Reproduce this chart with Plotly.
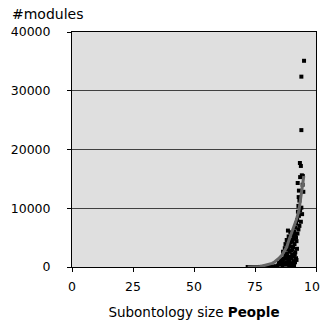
import plotly.graph_objects as go

# Scatter data: subontology size vs number of modules
sizes = [95.1, 94.0, 94.0, 93.4, 93.8,
         94.2, 94.6, 93.5, 92.5, 94.5, 93.0, 94.8, 92.9, 93.2, 92.8, 94.0, 93.5,
         92.6, 94.3, 93.0, 92.3, 93.8, 91.9, 93.2, 91.5, 92.8, 91.0, 92.4, 90.6,
         91.8, 90.0, 92.0, 89.4, 91.2, 88.9, 90.6, 92.2, 88.5, 89.8, 91.5, 88.0,
         90.2, 87.4, 89.3, 91.8, 86.8, 88.6, 90.7, 86.0, 87.8, 89.9, 85.2, 87.0,
         89.0, 84.3, 86.2, 91.0, 83.5, 82.6, 81.7, 80.8, 80.0, 79.0, 78.0, 77.0,
         76.0, 75.0, 74.0, 73.0, 72.0, 88.5, 89.5, 90.3, 91.3, 92.0, 88.2, 89.0,
         87.5, 88.0, 88.8, 89.6, 90.4, 91.0, 91.6, 86.5, 87.2, 88.3, 89.2, 90.0,
         90.9, 85.5, 86.4, 87.6, 88.9, 90.5, 91.4, 84.8, 85.8, 87.0, 88.4, 89.7]
modules = [35100, 32400, 23300, 17700, 17200,
           15600, 15500, 15300, 14300, 14000, 13000, 12800, 11900, 11300, 10400, 10100, 9700,
           9400, 9000, 8700, 8000, 7700, 7400, 7000, 6700, 6400, 6000, 5700, 5400,
           5000, 4700, 4400, 4200, 3900, 3600, 3400, 3100, 3000, 2800, 2500, 2300,
           2100, 1900, 1700, 1500, 1400, 1200, 1000, 900, 800, 600, 500, 400,
           300, 250, 200, 300, 120, 80, 60, 40, 30, 20, 15, 10,
           5, 5, 3, 2, 1, 6200, 5900, 4300, 2200, 1200, 1700, 900,
           3900, 4600, 5200, 3500, 3000, 4800, 5600, 2600, 3200, 2000, 2600, 1500,
           1800, 1300, 1000, 1500, 900, 600, 800, 700, 500, 600, 400, 200]

# Trend curve
trend_x = [72, 73, 74, 75, 76, 77, 78, 79, 80, 81, 82, 83, 84, 85, 86, 87, 88, 89,
           90, 91, 92, 93, 94, 95]
trend_y = [0, 5, 15, 30, 60, 100, 160, 250, 370, 500, 620, 850, 1150, 1550, 2000,
           2600, 3400, 4700, 5800, 6900, 8100, 9600, 12300, 15500]

x_ticks = [0, 25, 50, 75, 100]
y_ticks = [0, 10000, 20000, 30000, 40000]
y_tick_labels = ["0", "10000", "20000", "30000", "40000"]

FONT = "DejaVu Sans"

fig = go.Figure()
fig.add_trace(go.Scatter(x=sizes, y=modules, mode="markers",
                         marker=dict(symbol="square", size=4, color="black",
                                     line=dict(width=0)),
                         showlegend=False))
fig.add_trace(go.Scatter(x=trend_x, y=trend_y, mode="lines",
                         line=dict(color="#666666", width=3),
                         showlegend=False))

fig.update_layout(
    width=320, height=313,
    margin=dict(l=64, r=12, t=24, b=54),
    paper_bgcolor="white",
    plot_bgcolor="#dfdfdf",
    font=dict(family=FONT, size=12.5, color="black"),
    xaxis=dict(range=[0, 100], tickvals=x_ticks, ticks="outside", ticklen=4,
               tickcolor="black", showline=True, linecolor="black", mirror=True,
               showgrid=False, zeroline=False, automargin=False,
               ticklabelstandoff=4,
               title=dict(text="Subontology size <b>People</b>", standoff=14,
                          font=dict(size=13.5))),
    yaxis=dict(range=[0, 40000], tickvals=y_ticks, ticktext=y_tick_labels,
               ticks="outside", ticklen=4, automargin=False,
               tickcolor="black", showline=True, linecolor="black", mirror=True,
               showgrid=True, gridcolor="#404040", gridwidth=1, zeroline=False,
               ticklabelstandoff=14),
    annotations=[dict(text="#modules", xref="paper", yref="paper",
                      x=-64/244, y=1, xanchor="left", yanchor="bottom",
                      yshift=8, xshift=2, showarrow=False,
                      font=dict(size=14))],
)

fig.write_html("out.html")
